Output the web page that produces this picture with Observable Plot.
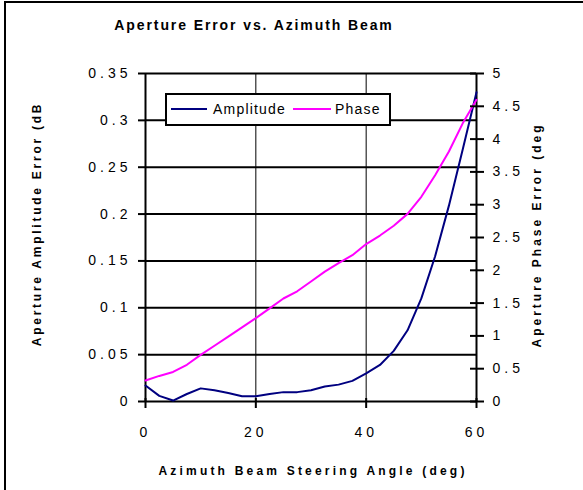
<!DOCTYPE html>
<html>
<head>
<meta charset="utf-8">
<script src="https://cdn.jsdelivr.net/npm/d3@7"></script>
<script src="https://cdn.jsdelivr.net/npm/@observablehq/plot@0.6"></script>
<style>
  html, body { margin: 0; padding: 0; background: #fff; }
  #wrap { position: relative; width: 583px; height: 490px; overflow: hidden; font-family: "Liberation Sans", Arial, sans-serif; color: #000; }
  #border { position: absolute; left: 4px; top: 1px; width: 600px; height: 600px; border-left: 2px solid #000; border-top: 2px solid #000; box-sizing: border-box; }
  #titlebar { height: 42px; }
  .ov { position: absolute; white-space: nowrap; font-weight: bold; }
  #title { left: 254px; top: 17px; font-size: 14px; letter-spacing: 1.9px; transform: translateX(-50%); line-height: 16px; }
  #xlabel { left: 313px; top: 464px; font-size: 12px; letter-spacing: 3.2px; transform: translateX(-50%); line-height: 14px; }
  #ylabelL { left: 37px; top: 224px; font-size: 12px; letter-spacing: 2.75px; transform: translate(-50%, -50%) rotate(-90deg); line-height: 14px; }
  #ylabelR { left: 537px; top: 235px; font-size: 12px; letter-spacing: 3px; transform: translate(-50%, -50%) rotate(-90deg); line-height: 14px; }
  #legend { position: absolute; left: 165px; top: 93px; width: 226px; height: 33px; box-sizing: border-box; border: 2px solid #000; background: #fff; font-size: 14px; letter-spacing: 1.2px; }
  #legend .sw { position: absolute; top: 13px; height: 2px; }
  #legend .lt { position: absolute; top: 6px; line-height: 16px; }
  svg { display: block; }
</style>
</head>
<body>
<div id="wrap">
  <div id="border"></div>
  <div id="titlebar"></div>
  <div id="chart"></div>
  <div class="ov" id="title">Aperture Error vs. Azimuth Beam</div>
  <div class="ov" id="xlabel">Azimuth Beam Steering Angle (deg)</div>
  <div class="ov" id="ylabelL">Aperture Amplitude Error (dB</div>
  <div class="ov" id="ylabelR">Aperture Phase Error (deg</div>
  <div id="legend"></div>
</div>
<script>
// ---- data ----
const angles    = [0, 2.5, 5, 7.5, 10, 12.5, 15, 17.5, 20, 22.5, 25, 27.5, 30, 32.5, 35, 37.5, 40, 42.5, 45, 47.5, 50, 52.5, 55, 57.5, 60];
const amplitude = [0.017, 0.006, 0.001, 0.008, 0.014, 0.012, 0.009, 0.0055, 0.0055, 0.008, 0.010, 0.010, 0.012, 0.016, 0.018, 0.022, 0.030, 0.039, 0.054, 0.076, 0.110, 0.155, 0.209, 0.269, 0.330];
const phase     = [0.32, 0.39, 0.45, 0.56, 0.71, 0.85, 0.99, 1.13, 1.27, 1.42, 1.57, 1.68, 1.83, 1.98, 2.11, 2.23, 2.40, 2.53, 2.68, 2.86, 3.12, 3.45, 3.81, 4.24, 4.60];
const seriesNames  = ["Amplitude", "Phase"];
const seriesColors = ["#000080", "#ff00ff"];
const xTicks     = [0, 20, 40, 60];
const xGrid      = [20, 40];
const ampTicks   = [0, 0.05, 0.1, 0.15, 0.2, 0.25, 0.3, 0.35];
const phaseTicks = [0, 0.5, 1, 1.5, 2, 2.5, 3, 3.5, 4, 4.5, 5];
const ampMax = 0.35, phaseMax = 5;
const k = ampMax / phaseMax; // phase -> left-axis units (secondary axis)

const data = angles.map((a, i) => ({angle: a, amp: amplitude[i], phase: phase[i]}));
const phaseTickPos = phaseTicks.map(v => v * k);
const fmt = v => String(+v.toFixed(2));

const chart = Plot.plot({
  width: 583,
  height: 448,
  marginTop: 31,
  marginBottom: 89,
  marginLeft: 145,
  marginRight: 107,
  x: {domain: [0, 60]},
  y: {domain: [0, ampMax]},
  style: {fontFamily: "'Liberation Sans', Arial, sans-serif", fontSize: "14px", color: "#000", background: "transparent", letterSpacing: "4px"},
  marks: [
    Plot.ruleX(xGrid, {stroke: "#000", strokeWidth: 1}),
    Plot.ruleY(ampTicks, {stroke: "#000", strokeWidth: 2}),
    Plot.ruleX([0, 60], {stroke: "#000", strokeWidth: 2}),
    Plot.line(data, {x: "angle", y: "amp", stroke: seriesColors[0], strokeWidth: 2}),
    Plot.line(data, {x: "angle", y: d => d.phase * k, stroke: seriesColors[1], strokeWidth: 2}),
    Plot.axisY(ampTicks, {anchor: "left", tickSize: 7, tickPadding: 7, strokeWidth: 2, tickFormat: fmt, label: null}),
    Plot.axisY(phaseTickPos, {anchor: "right", tickSize: 14, dx: -7, strokeWidth: 2, tickFormat: () => "", label: null}),
    Plot.axisY(phaseTickPos, {anchor: "right", tickSize: 0, tickPadding: 16, tickFormat: d => fmt(d / k), label: null}),
    Plot.axisX(xTicks, {anchor: "bottom", tickSize: 10, dy: -3, strokeWidth: 2, tickFormat: () => "", label: null}),
    Plot.axisX(xTicks, {anchor: "bottom", tickSize: 0, tickPadding: 26, label: null})
  ]
});
document.getElementById("chart").appendChild(chart);

// legend
const legend = document.getElementById("legend");
const items = [
  {sw: 4, swW: 36, tx: 46},
  {sw: 126, swW: 38, tx: 168}
];
seriesNames.forEach((name, i) => {
  const s = document.createElement("div");
  s.className = "sw";
  s.style.left = items[i].sw + "px";
  s.style.width = items[i].swW + "px";
  s.style.background = seriesColors[i];
  legend.appendChild(s);
  const t = document.createElement("div");
  t.className = "lt";
  t.style.left = items[i].tx + "px";
  t.textContent = name;
  legend.appendChild(t);
});
</script>
</body>
</html>
